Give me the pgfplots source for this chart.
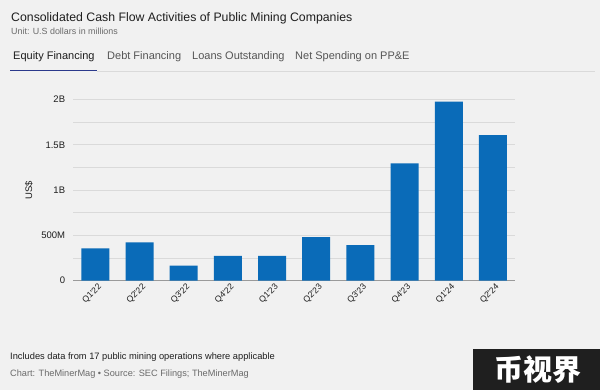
\documentclass[border=0pt]{standalone}
\usepackage{pgfplots}
\pgfplotsset{compat=1.18}
\usepackage{fontspec}
\setmainfont{Liberation Sans}
\newfontfamily\cjk{Noto Sans CJK SC}
\definecolor{bg}{HTML}{F1F1F1}
\definecolor{barblue}{HTML}{0A6BB8}
\definecolor{gridc}{HTML}{DADADA}
\definecolor{axisc}{HTML}{9A9A9A}
\definecolor{titlec}{HTML}{1E1E1E}
\definecolor{subc}{HTML}{6A6A6A}
\definecolor{tabc}{HTML}{555555}
\definecolor{navy}{HTML}{2B3A8C}
\pgfplotstableread{
x val
0 0.358
1 0.424
2 0.166
3 0.273
4 0.273
5 0.482
6 0.394
7 1.296
8 1.976
9 1.608
}\data
\newcommand{\q}{\textquotesingle}
\begin{document}
\begin{tikzpicture}
\fill[bg] (0bp,0bp) rectangle (600bp,-390bp);
% titles
\node[anchor=base west, inner sep=0pt, text=titlec] at (11bp,-21bp) {\fontsize{12.3bp}{14bp}\selectfont Consolidated Cash Flow Activities of Public Mining Companies};
\node[anchor=base west, inner sep=0pt, text=subc] at (11bp,-34bp) {\fontsize{8.9bp}{10bp}\selectfont Unit: U.S dollars in millions};
% tabs
\node[anchor=base west, inner sep=0pt, text=titlec] at (13bp,-59bp) {\fontsize{11bp}{12bp}\selectfont Equity Financing};
\node[anchor=base west, inner sep=0pt, text=tabc] at (107bp,-59bp) {\fontsize{11bp}{12bp}\selectfont Debt Financing};
\node[anchor=base west, inner sep=0pt, text=tabc] at (192bp,-59bp) {\fontsize{11bp}{12bp}\selectfont Loans Outstanding};
\node[anchor=base west, inner sep=0pt, text=tabc] at (295bp,-59bp) {\fontsize{11bp}{12bp}\selectfont Net Spending on PP\&E};
\draw[gridc, line width=1bp] (97bp,-71bp) -- (595bp,-71bp);
\draw[navy, line width=1.6bp] (10bp,-70.5bp) -- (97bp,-70.5bp);
% y label
\node[rotate=90, inner sep=0pt, text=titlec] at (29bp,-190bp) {\fontsize{9.5bp}{11bp}\selectfont US\$};
\begin{axis}[
  at={(73.3bp,-280.7bp)}, anchor=south west,
  scale only axis, width=441.7bp, height=181.2bp,
  xmin=-0.5, xmax=9.5, ymin=0, ymax=2,
  axis x line*=bottom,
  axis y line*=left,
  x axis line style={draw=axisc, line width=0.9bp, -},
  y axis line style={draw=none},
  ytick={0,0.5,1,1.5,2},
  yticklabels={0,500M,1B,1.5B,2B},
  minor ytick={0.25,0.75,1.25,1.75},
  ymajorgrids, yminorgrids,
  major grid style={draw=gridc, line width=0.8bp},
  minor grid style={draw=gridc, line width=0.8bp},
  major tick length=0pt, minor tick length=0pt,
  xtick=data,
  xticklabels={Q1\q22,Q2\q22,Q3\q22,Q4\q22,Q1\q23,Q2\q23,Q3\q23,Q4\q23,Q1\q24,Q2\q24},
  tick label style={inner sep=0pt, text=titlec},
  yticklabel style={anchor=east, xshift=-8bp, font=\fontsize{9.5bp}{10bp}\selectfont},
  xticklabel style={rotate=45, anchor=north east, yshift=-3bp, font=\fontsize{8.6bp}{9bp}\selectfont},
  clip=false,
]
\addplot[ybar, bar width=28bp, fill=barblue, draw=none] table[x=x, y=val] {\data};
\end{axis}
% footer
\node[anchor=base west, inner sep=0pt, text=titlec] at (10bp,-359bp) {\fontsize{9.3bp}{10bp}\selectfont Includes data from 17 public mining operations where applicable};
\node[anchor=base west, inner sep=0pt, text=subc] at (10bp,-376bp) {\fontsize{9.2bp}{10bp}\selectfont Chart: TheMinerMag \textbullet{} Source: SEC Filings; TheMinerMag};
% watermark
\fill[black!88] (473bp,-349bp) rectangle (600bp,-390bp);
\node[text=white, inner sep=0pt] at (538bp,-369.5bp) {\cjk\bfseries\fontsize{29bp}{30bp}\selectfont 币视界};
\end{tikzpicture}
\end{document}
